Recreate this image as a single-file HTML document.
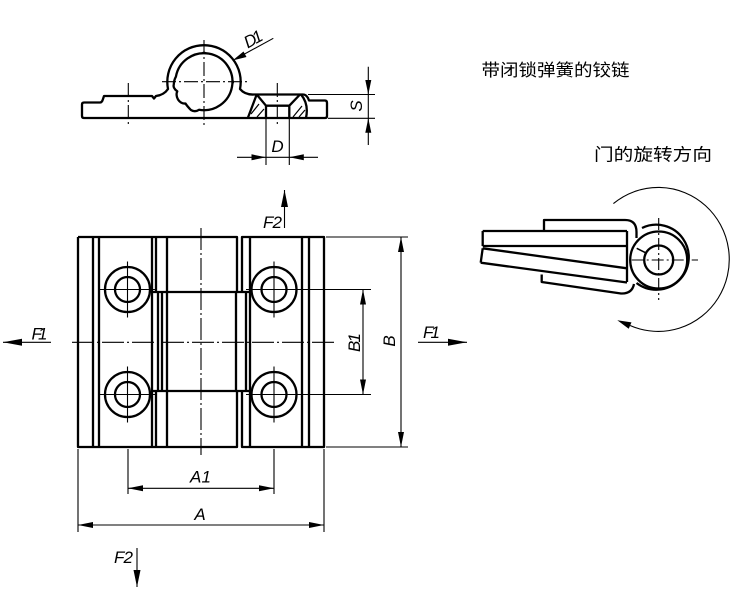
<!DOCTYPE html>
<html><head><meta charset="utf-8"><style>
html,body{margin:0;padding:0;background:#fff;width:750px;height:590px;overflow:hidden}
svg{display:block}
text{font-family:"Liberation Sans",Arial,sans-serif;font-style:italic;font-size:17px;fill:#000}
.cn{font-family:"Noto Sans CJK SC","WenQuanYi Zen Hei",sans-serif;font-style:normal}
</style></head><body>
<svg width="750" height="590" viewBox="0 0 750 590" xmlns="http://www.w3.org/2000/svg">
<g fill="none" stroke="#000" stroke-width="2.3" stroke-linejoin="round" stroke-linecap="butt">
  <!-- ===== TOP VIEW ===== -->
  <path d="M84,102.5 H100 Q102,102.5 103,99 L104,96 H152 L154,98.5 L156,96 Q164,95 168,89 A36.7,36.7 0 1 1 240,89 Q245,95 254,94.5 H303 Q306,94.5 308,98 L309,100.5 H325 Q327,100.5 327,103 V116 Q327,118 325,118 H84 Q82,118 82,116 V104.5 Q82,102.5 84,102.5 Z"/>
  <!-- bore -->
  <path d="M199,109.8 Q195,112.5 190.9,110 Q187,106 185.5,103.5 Q181,104 178,99.5 Q175.5,95 177.3,91.3 Q172.5,88 173.8,84.3 Q174,80 175.9,76.7 A28.5,28.5 0 1 1 199,109.8 Z"/>
  <path d="M202,53.3 q2,-2 4,0 M232.3,80 q2,2 0,4" stroke-width="1.6"/>
  <!-- countersink -->
  <path d="M256.7,94.5 L266,105.7 H289.3 L300,94.5 M266,105.7 V118 M289.3,105.7 V118 M256.7,94.5 L248,117.5 M301,94.5 Q309,104 306,118"/>
  <path d="M251,114 L259,104 M257,117 L264,109 M293,117 L302,106 M299,117 L305,110" stroke-width="1.2"/>

  <!-- ===== MAIN VIEW ===== -->
  <path d="M78,237 H237 V292 M78,237 V447 H237 V391 M242,292 V237 H324 V447 H242 V391"/>
  <path d="M152,292 H250 M152,391 H250"/>
  <path d="M93,237 V447 M99,237 V447 M152,237 V447 M167,237 V447 M250,237 V447 M302,237 V447 M309,237 V447"/>
  <path d="M156,237 V292 M156,391 V447 M158,292 V391 M162,292 V391 M236,292 V391 M246,292 V391"/>
  <!-- holes -->
  <g fill="#fff">
    <circle cx="127.5" cy="289.5" r="22.5"/>
    <circle cx="127.5" cy="394.5" r="22.5"/>
    <circle cx="274" cy="289.5" r="22.5"/>
    <circle cx="274" cy="394.5" r="22.5"/>
  </g>
  <circle cx="127.5" cy="289.5" r="12.5"/>
  <circle cx="127.5" cy="394.5" r="12.5"/>
  <circle cx="274" cy="289.5" r="12.5"/>
  <circle cx="274" cy="394.5" r="12.5"/>

  <!-- ===== SIDE VIEW ===== -->
  <path d="M482.7,231 H627 M482.7,246 H627 M482.7,231 V246"/>
  <path d="M544,231 V220 H625 Q636.5,220 636.5,232 V238"/>
  <path d="M627,231 V282"/>
  <path d="M482.7,248.3 L627,268.3 M480.7,262.7 L627,282.5 M482.7,248.3 L480.7,262.7"/>
  <path d="M541.7,274.5 V282 L621,293.5 Q632,294 634,284"/>
  <path d="M642,228 A32.5,32.5 0 1 1 636.5,283"/>
  <circle cx="658.7" cy="260" r="28.5"/>
  <circle cx="658.7" cy="260" r="14.5"/>
  <path d="M636.7,248.3 L646.7,253.3" stroke-width="1.6"/>
</g>

<!-- thin lines -->
<g fill="none" stroke="#000" stroke-width="1.1">
  <!-- top view center lines -->
  <path d="M204,40 V126 M162,81.7 H247 M128.3,83 V127 M277.3,83 V127" stroke-dasharray="14 3 2 3"/>
  <!-- D1 leader -->
  <path d="M273.3,38.3 L240,56.5"/>
  <!-- S dim -->
  <path d="M308,94.5 H375 M328,118.3 H375 M368.3,66.7 V145"/>
  <!-- D dim -->
  <path d="M266,118 V165 M289.3,118 V165 M237,157.3 H318"/>

  <!-- main center lines -->
  <path d="M201,228 V455" stroke-dasharray="22 3 2 3"/>
  <path d="M72,342.3 H335" stroke-dasharray="22 3 2 3"/>
  <!-- hole crosshairs -->
  <path d="M127.5,261.5 V317.5 M98.5,289.5 H156.5 M127.5,366.5 V422.5 M98.5,394.5 H156.5"/>
  <path d="M274,261.5 V317.5 M246,289.5 H371 M274,366.5 V422.5 M246,394.5 H371"/>
  <!-- B dims -->
  <path d="M326,237 H408 M326,447 H408 M401,237 V447 M363,289.5 V394.5"/>
  <!-- A dims -->
  <path d="M78,449 V532 M324,449 V532 M128,449 V494 M274,449 V494 M78,525 H324 M128,488.3 H274"/>
  <!-- F arrows -->
  <path d="M3,342.3 H51 M418,342.3 H467 M284.5,190 V228 M137,548 V587"/>

  <!-- side view center lines -->
  <path d="M658.7,218 V300 M631.7,260 H698" stroke-dasharray="12 3 2 3"/>
  <!-- rotation arc -->
  <path d="M613.4,203.6 A71,72 0 1 1 630.1,325.5"/>
</g>

<!-- arrowheads -->
<g fill="#000" stroke="none">
  <polygon points="232.5,60.5 243.5,51.5 246.5,57"/>
  <polygon points="368.3,94.5 365.3,80 371.3,80"/>
  <polygon points="368.3,118.3 365.3,132.8 371.3,132.8"/>
  <polygon points="266,157.3 251.5,154.3 251.5,160.3"/>
  <polygon points="289.3,157.3 303.8,154.3 303.8,160.3"/>

  <polygon points="401,237 398,252 404,252"/>
  <polygon points="401,447 398,432 404,432"/>
  <polygon points="363,289.5 360,304.5 366,304.5"/>
  <polygon points="363,394.5 360,379.5 366,379.5"/>
  <polygon points="78,525 93,522 93,528"/>
  <polygon points="324,525 309,522 309,528"/>
  <polygon points="128,488.3 143,485.3 143,491.3"/>
  <polygon points="274,488.3 259,485.3 259,491.3"/>

  <polygon points="3,342.3 22,338.8 22,345.8"/>
  <polygon points="467,342.3 448,338.8 448,345.8"/>
  <polygon points="284.5,190 281,207 288,207"/>
  <polygon points="137,587 133.5,570 140.5,570"/>

  <polygon points="617.3,320.2 631.5,322.4 628.7,328.8"/>
</g>

<!-- labels -->
<text transform="translate(256,44) rotate(-29)" text-anchor="middle" textLength="19">D1</text>
<text transform="translate(362,106) rotate(-90)" text-anchor="middle">S</text>
<text x="277.5" y="152" text-anchor="middle">D</text>
<text x="263" y="228" textLength="19">F2</text>
<text x="31.5" y="339.5" textLength="16">F1</text>
<text x="423" y="338" textLength="17">F1</text>
<text transform="translate(360,342.5) rotate(-90)" text-anchor="middle" textLength="19">B1</text>
<text transform="translate(395,341) rotate(-90)" text-anchor="middle">B</text>
<text x="190" y="482.5" textLength="21">A1</text>
<text x="200" y="520" text-anchor="middle">A</text>
<text x="114" y="563" textLength="19">F2</text>

<text class="cn" x="481.5" y="76" font-size="20" textLength="148" lengthAdjust="spacingAndGlyphs">带闭锁弹簧的铰链</text>
<text class="cn" x="594" y="160.5" font-size="21" textLength="118" lengthAdjust="spacingAndGlyphs">门的旋转方向</text>
</svg>
</body></html>
